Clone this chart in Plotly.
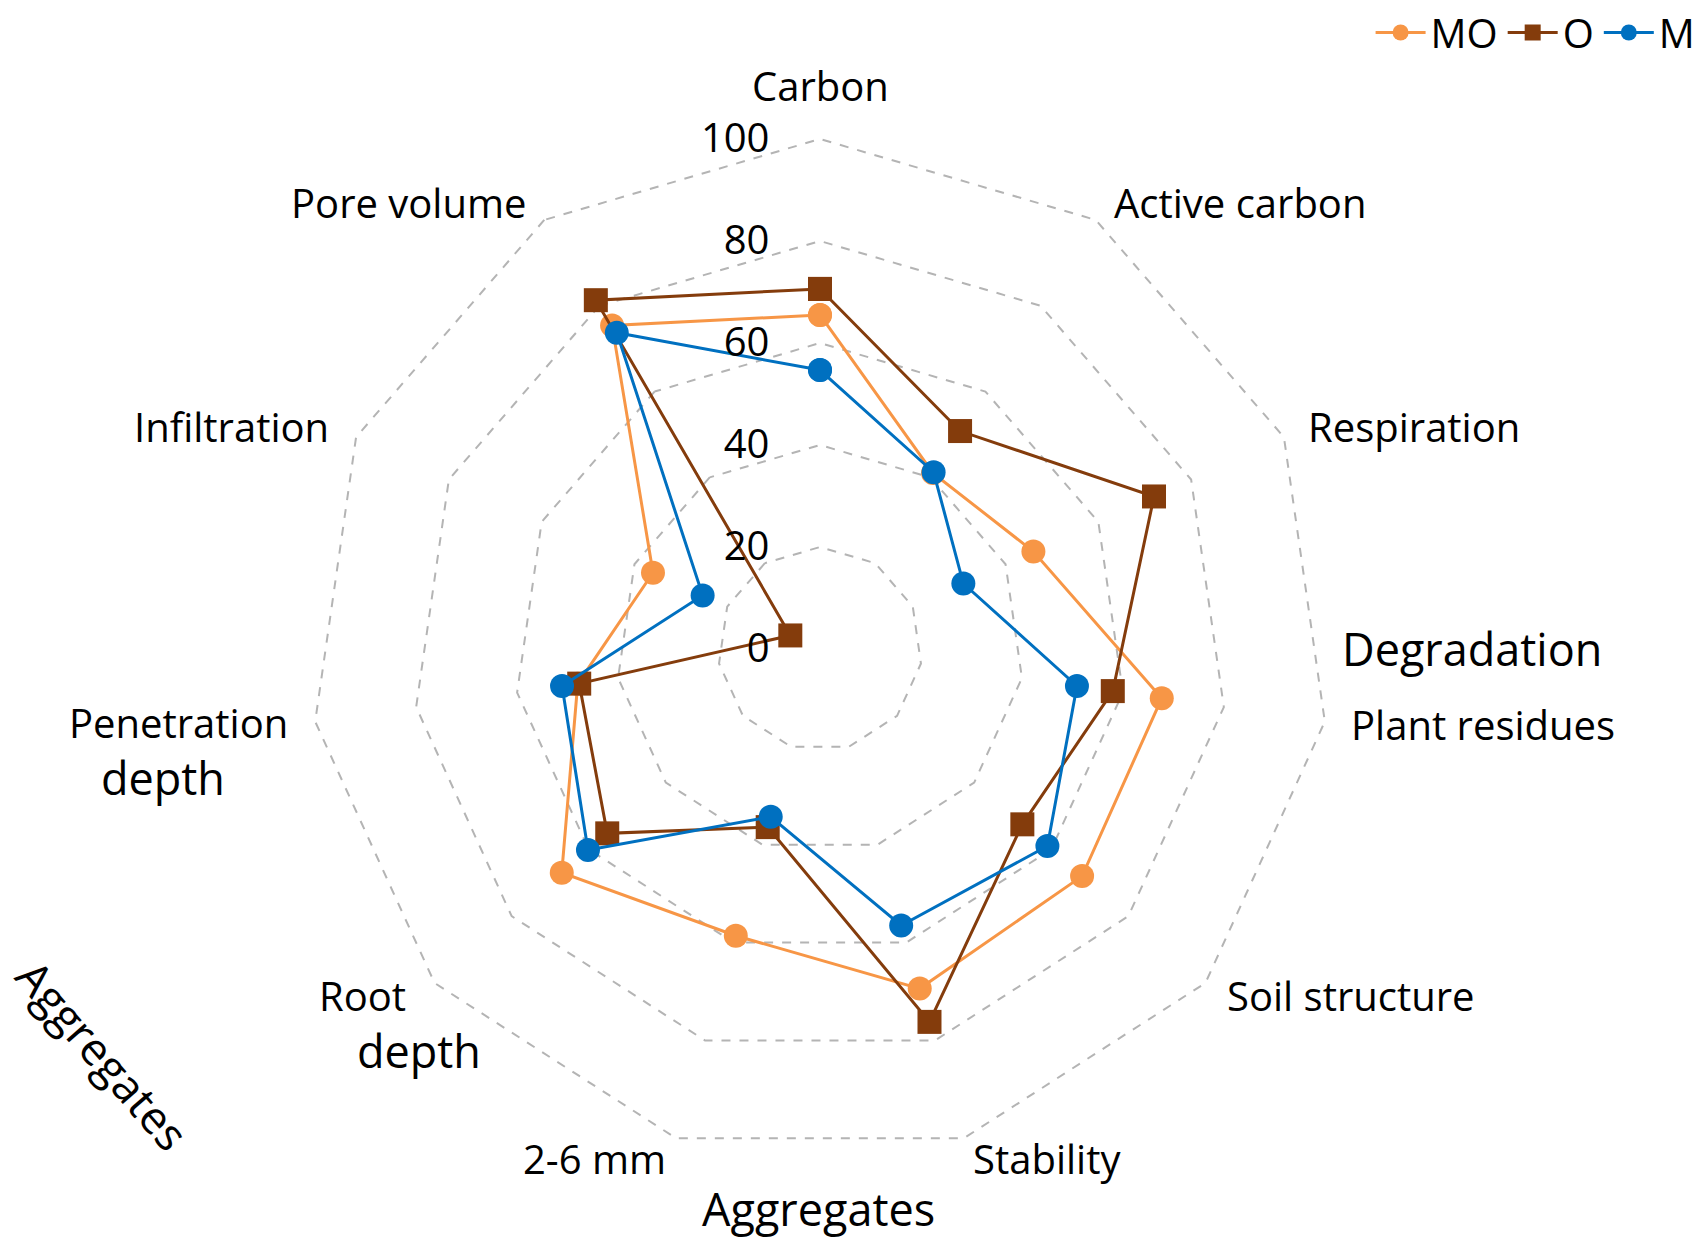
import plotly.graph_objects as go

categories = ["Carbon", "Active carbon", "Respiration", "Plant residues", "Soil structure",
              "Stability", "2-6 mm", "Root depth", "Penetration depth", "Infiltration", "Pore volume"]
mo_values = [65.5, 41, 46, 67.7, 68, 69.4, 58.6, 67, 48, 36, 75.4]
o_values = [70.6, 50.8, 72, 58, 52.5, 76.2, 36.4, 55.2, 47.7, 6.4, 81.3]
m_values = [54.7, 41.2, 30.9, 50.9, 59, 56.5, 34.3, 60.2, 51.1, 25.3, 73.7]
radial_ticks = [0, 20, 40, 60, 80, 100]

series = [
    ("MO", mo_values, "#F79646", "circle"),
    ("O", o_values, "#843C0C", "square"),
    ("M", m_values, "#0070C0", "circle"),
]

W, H = 1704, 1238
FONT = "Open Sans"
RMAX = 101

fig = go.Figure()
for name, vals, color, sym in series:
    fig.add_trace(go.Scatterpolar(
        r=vals + vals[:1],
        theta=categories + categories[:1],
        name=name,
        mode="lines+markers",
        line=dict(color=color, width=3),
        marker=dict(color=color, size=24, symbol=sym),
    ))

cx, cy = 820, 649
R = 510 * RMAX / 100
fig.update_layout(
    width=W, height=H,
    margin=dict(l=0, r=0, t=0, b=0, autoexpand=False),
    paper_bgcolor="white",
    plot_bgcolor="white",
    font=dict(family=FONT, size=40, color="black"),
    polar=dict(
        domain=dict(x=[(cx - R) / W, (cx + R) / W], y=[(H - cy - R) / H, (H - cy + R) / H]),
        bgcolor="white",
        gridshape="linear",
        radialaxis=dict(
            range=[0, RMAX], tickvals=radial_ticks, angle=90, tickangle=90,
            side="counterclockwise", showline=False, ticks="outside", ticklen=36,
            tickcolor="rgba(0,0,0,0)", gridcolor="#B4B4B4", griddash="dash", gridwidth=1.5,
            tickfont=dict(family=FONT, size=40, color="black"),
        ),
        angularaxis=dict(
            direction="clockwise", rotation=90, showticklabels=False, ticks="",
            showgrid=False, showline=False,
        ),
    ),
    legend=dict(orientation="h", x=0.998, xanchor="right", y=1.0, yanchor="top",
                font=dict(family=FONT, size=40, color="black"), itemwidth=50,
                tracegroupgap=0, bgcolor="rgba(0,0,0,0)"),
)

labels = [
    ("Carbon", 820, 85, 40, 0),
    ("Active carbon", 1240, 202, 40, 0),
    ("Respiration", 1414, 427, 40, 0),
    ("Degradation", 1472, 648, 45, 0),
    ("Plant residues", 1483, 724, 40, 0),
    ("Soil structure", 1351, 995, 40, 0),
    ("Stability", 1047, 1158, 40, 0),
    ("Aggregates", 818, 1208, 45, 0),
    ("2-6 mm", 594, 1158, 40, 0),
    ("Root", 362, 995, 40, 0),
    ("depth", 419, 1050, 45, 0),
    ("Penetration", 178, 722, 40, 0),
    ("depth", 163, 777, 45, 0),
    ("Infiltration", 231, 427, 40, 0),
    ("Pore volume", 409, 202, 40, 0),
    ("Aggregates", 103, 1054, 45, 49),
]
for text, px, py, size, ang in labels:
    fig.add_annotation(text=text, x=px / W, y=1 - py / H, xref="paper", yref="paper",
                       xanchor="center", yanchor="middle", showarrow=False, textangle=ang,
                       font=dict(family=FONT, size=size, color="black"))

fig.write_html("out.html")
